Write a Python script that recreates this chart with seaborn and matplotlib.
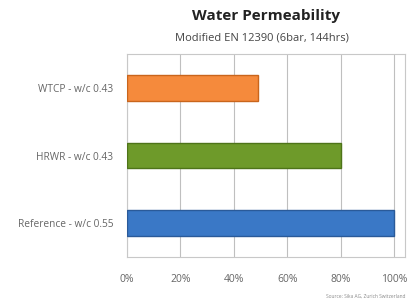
import matplotlib
matplotlib.use("Agg")
import matplotlib.pyplot as plt
import seaborn as sns
import pandas as pd
from matplotlib.ticker import PercentFormatter

categories = ["WTCP - w/c 0.43", "HRWR - w/c 0.43", "Reference - w/c 0.55"]
values = [0.49, 0.80, 1.00]
colors = ["#F58A3C", "#6E9A2A", "#3A78C6"]
edge_colors = ["#C9651C", "#4E7419", "#2A5A99"]
xticks = [0, 0.2, 0.4, 0.6, 0.8, 1.0]

df = pd.DataFrame({"cat": categories, "val": values})

sns.set_style("white")
plt.rcParams["font.family"] = ["Open Sans", "DejaVu Sans"]

fig = plt.figure(figsize=(4.12, 3.02), dpi=100)
ax = fig.add_axes([127 / 412, 1 - 257 / 302, (405 - 127) / 412, (257 - 54) / 302])

sns.barplot(data=df, x="val", y="cat", hue="cat", palette=colors, legend=False,
            order=categories, width=0.38, saturation=1, ax=ax, zorder=3)
for patch, ec in zip(ax.patches, edge_colors):
    patch.set_edgecolor(ec)
    patch.set_linewidth(1.0)

ax.set_xlim(0, 1.04)
ax.set_xticks(xticks)
ax.xaxis.set_major_formatter(PercentFormatter(1.0, decimals=0))
ax.grid(axis="x", color="#BFBFBF", linewidth=0.8, zorder=0)
ax.set_axisbelow(True)
for s in ax.spines.values():
    s.set_color("#C8C8C8")
    s.set_linewidth(0.8)
ax.set_xlabel("")
ax.set_ylabel("")
ax.tick_params(axis="x", labelsize=7.5, colors="#666666", length=0, pad=12)
ax.tick_params(axis="y", labelsize=7.3, colors="#666666", length=0, pad=10)

fig.text(266 / 412, 1 - 16 / 302, "Water Permeability", ha="center", va="center",
         fontsize=11, fontweight="bold", color="#222222")
fig.text(262 / 412, 1 - 38 / 302, "Modified EN 12390 (6bar, 144hrs)", ha="center",
         va="center", fontsize=8, color="#444444")
fig.text(0.985, 1 - 296 / 302, "Source: Sika AG, Zurich Switzerland", ha="right",
         va="center", fontsize=3.5, color="#888888")

fig.savefig("out.png", dpi=100)
